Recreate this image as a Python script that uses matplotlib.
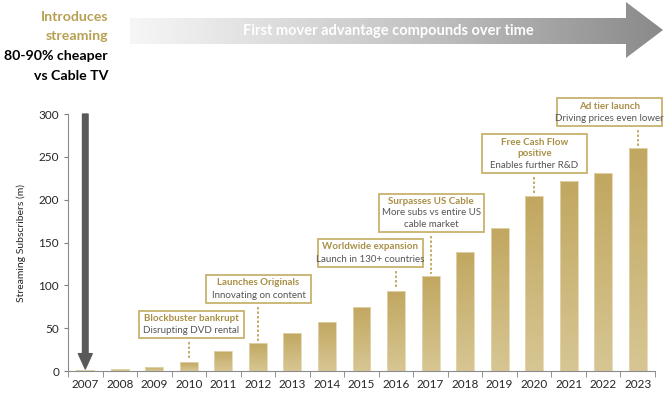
import numpy as np
import matplotlib
matplotlib.use("Agg")
import matplotlib.pyplot as plt
from matplotlib.patches import Rectangle, Polygon

# data
years = ['2007', '2008', '2009', '2010', '2011', '2012', '2013', '2014', '2015',
         '2016', '2017', '2018', '2019', '2020', '2021', '2022', '2023']
subs = [1, 2.5, 5, 10, 23.5, 33, 44.5, 57.5, 75, 94, 111, 139, 167, 204, 222, 231, 260.5]

event_years = ['2010', '2012', '2016', '2017', '2020', '2023']
event_titles = ['Blockbuster bankrupt', 'Launches Originals', 'Worldwide expansion',
                'Surpasses US Cable', 'Free Cash Flow\npositive', 'Ad tier launch']
event_notes = ['Disrupting DVD rental', 'Innovating on content', 'Launch in 130+ countries',
               'More subs vs entire US\ncable market', 'Enables further R&D',
               'Driving prices even lower']

# box placement (centre x offset in bars, top y, height) - layout only
box_dx = [0.07, 0.02, -0.74, 0.02, 0.01, -0.83]
box_top = [70, 112, 154, 206.5, 276.5, 318.5]
box_h = [31.5, 32.5, 32.5, 44.5, 45.5, 32.5]

gold = '#B8A052'
gold_dark = '#A88F45'
bar_top = '#C1A760'
bar_bot = '#D7C693'
grey_txt = '#555555'

plt.rcParams['font.family'] = ['Lato', 'DejaVu Sans']

fig = plt.figure(figsize=(6.67, 3.96), dpi=100)
ax = fig.add_axes([0.102, 0.063, 0.880, 0.649])

x = np.arange(len(years))
bars = ax.bar(x, subs, width=0.52, color='none', edgecolor='#E3D7B0', linewidth=0.6, zorder=2)

# vertical gradient inside each bar
grad = np.linspace(0, 1, 100).reshape(-1, 1)
cmap = matplotlib.colors.LinearSegmentedColormap.from_list('g', [bar_bot, bar_top])
for b in bars:
    bx, by = b.get_x(), b.get_y()
    im = ax.imshow(grad, cmap=cmap, aspect='auto', origin='lower',
                   extent=[bx, bx + b.get_width(), by, by + b.get_height()], zorder=1)
    im.set_clip_path(b)

ax.set_xlim(-0.5, len(years) - 0.5)
ax.set_ylim(0, 300)
ax.set_xticks(x)
ax.set_xticklabels(years)
ax.set_xticks(np.arange(-0.5, len(years), 1), minor=True)
ax.tick_params(axis='x', which='major', length=0, pad=6, labelsize=8.5, labelcolor='#262626')
ax.tick_params(axis='x', which='minor', length=4, color='#7F7F7F', direction='out')
ax.tick_params(axis='y', length=3, color='#7F7F7F', labelsize=8.5, labelcolor='#262626')
ax.set_yticks(range(0, 301, 50))
for s in ['top', 'right']:
    ax.spines[s].set_visible(False)
for s in ['left', 'bottom']:
    ax.spines[s].set_color('#8C8C8C')
    ax.spines[s].set_linewidth(0.8)
ax.set_ylabel('Streaming Subscribers (m)', fontsize=7.5, color='#262626', labelpad=9)

# milestone boxes
for ey, t, n, dx, top, h in zip(event_years, event_titles, event_notes, box_dx, box_top, box_h):
    i = years.index(ey)
    cx = i + dx
    w = 3.04
    ax.add_patch(Rectangle((cx - w / 2, top - h), w, h, facecolor='white',
                           edgecolor='#C8B26E', linewidth=1.3, zorder=4, clip_on=False))
    nt = t.count('\n') + 1
    nn = n.count('\n') + 1
    step = h / (nt + nn)
    ax.text(cx, top - step * nt / 2 - 1, t, ha='center', va='center', fontsize=7.0,
            fontweight='bold', color=gold_dark, zorder=5, linespacing=1.35)
    ax.text(cx, top - h + step * nn / 2 + 1, n, ha='center', va='center', fontsize=7.0,
            color=grey_txt, zorder=5, linespacing=1.35)
    ax.plot([i, i], [top - h - 4.5, subs[i] + 2.5], color=gold, linestyle=(0, (1.5, 1.2)),
            linewidth=1.2, zorder=3)

# big vertical arrow at 2007
ax.annotate('', xy=(0, 2.5), xytext=(0, 300),
            arrowprops=dict(arrowstyle='simple,head_length=1.1,head_width=1.0,tail_width=0.4',
                            color='#595959', mutation_scale=10, shrinkA=0, shrinkB=0),
            zorder=6, annotation_clip=False)

# top overlay in pixel coords
top = fig.add_axes([0, 0, 1, 1], zorder=-1)
top.set_xlim(0, 667)
top.set_ylim(396, 0)
top.axis('off')
arrow_pts = [(130, 18), (626, 18), (626, 2), (663, 30), (626, 58), (626, 44), (130, 44)]
arr = Polygon(arrow_pts, closed=True, facecolor='none', edgecolor='none')
top.add_patch(arr)
hgrad = np.linspace(0, 1, 200).reshape(1, -1)
acmap = matplotlib.colors.LinearSegmentedColormap.from_list('a', ['#F6F6F6', '#C8C8C8', '#8A8A8A'])
im = top.imshow(hgrad, cmap=acmap, aspect='auto', extent=[130, 663, 58, 2])
im.set_clip_path(arr)
top.set_xlim(0, 667)
top.set_ylim(396, 0)
top.text(388, 31, 'First mover advantage compounds over time', ha='center', va='center',
         fontsize=10.5, fontweight='bold', color='white')

left_lines = ['Introduces', 'streaming', '80-90% cheaper', 'vs Cable TV']
left_cols = [gold, gold, '#000000', '#000000']
for k, (s, c) in enumerate(zip(left_lines, left_cols)):
    top.text(108, 17 + k * 19.5, s, ha='right', va='center', fontsize=10.2,
             fontweight='bold', color=c)

fig.savefig('out.png', dpi=100)
